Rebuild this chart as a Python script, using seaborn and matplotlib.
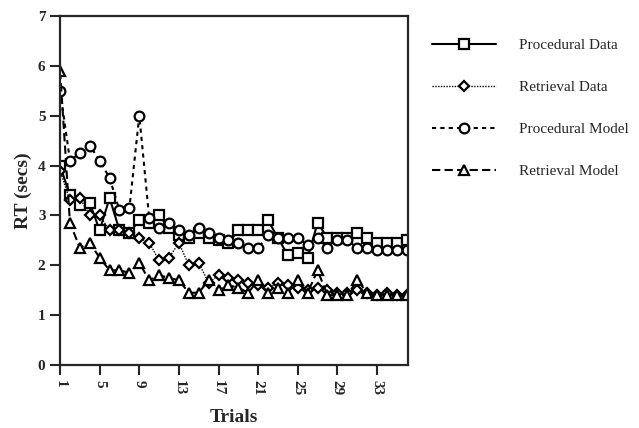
import matplotlib
matplotlib.use("Agg")
import matplotlib.pyplot as plt
import seaborn as sns
import pandas as pd

# valores (RT em segundos por tentativa)
trials = list(range(1, 37))
procedural_data = [4.0, 3.4, 3.2, 3.25, 2.7, 3.35, 2.7, 2.65, 2.9, 2.85, 3.0, 2.75,
                   2.6, 2.55, 2.65, 2.55, 2.5, 2.45, 2.7, 2.7, 2.7, 2.9, 2.55, 2.2,
                   2.25, 2.15, 2.85, 2.55, 2.55, 2.55, 2.65, 2.55, 2.45, 2.45, 2.45, 2.5]
retrieval_data = [3.9, 3.3, 3.35, 3.0, 3.0, 2.7, 2.7, 2.65, 2.55, 2.45, 2.1, 2.15,
                  2.45, 2.0, 2.05, 1.65, 1.8, 1.75, 1.7, 1.65, 1.6, 1.55, 1.65, 1.6,
                  1.55, 1.5, 1.55, 1.5, 1.45, 1.45, 1.5, 1.45, 1.4, 1.45, 1.4, 1.4]
procedural_model = [5.5, 4.1, 4.25, 4.4, 4.1, 3.75, 3.1, 3.15, 5.0, 2.95, 2.75, 2.85,
                    2.7, 2.6, 2.75, 2.65, 2.55, 2.5, 2.45, 2.35, 2.35, 2.6, 2.55, 2.55,
                    2.55, 2.4, 2.55, 2.35, 2.5, 2.5, 2.35, 2.35, 2.3, 2.3, 2.3, 2.3]
retrieval_model = [5.9, 2.85, 2.35, 2.45, 2.15, 1.9, 1.9, 1.85, 2.05, 1.7, 1.8, 1.75,
                   1.7, 1.45, 1.45, 1.7, 1.5, 1.6, 1.55, 1.45, 1.7, 1.45, 1.55, 1.45,
                   1.7, 1.45, 1.9, 1.4, 1.4, 1.4, 1.7, 1.45, 1.4, 1.4, 1.4, 1.4]

series_names = ["Procedural Data", "Retrieval Data", "Procedural Model", "Retrieval Model"]
series_values = [procedural_data, retrieval_data, procedural_model, retrieval_model]
markers = ["s", "D", "o", "^"]
linestyles = ["-", (0, (1, 1)), (0, (2, 2)), (0, (4, 2))]
linewidths = [1.5, 1.0, 1.5, 1.5]
marker_sizes = [7, 5.5, 7, 7]

sns.set_style("ticks")
plt.rcParams["font.family"] = ["Liberation Serif", "DejaVu Serif"]

fig = plt.figure(figsize=(6.39, 4.28), dpi=100)
ax = fig.add_axes([0.094, 0.147, 0.544, 0.816])

for name, vals, mk, ls, lw, ms in zip(series_names, series_values, markers,
                                      linestyles, linewidths, marker_sizes):
    df = pd.DataFrame({"Trial": trials, "RT": vals})
    sns.lineplot(data=df, x="Trial", y="RT", ax=ax, color="black", marker=mk,
                 linestyle=ls, linewidth=lw, markersize=ms, markerfacecolor="white",
                 markeredgecolor="black", markeredgewidth=1.6, label=name)

ax.set_xlim(1, 36.1)
ax.set_ylim(0, 7)
ax.set_xticks([1, 5, 9, 13, 17, 21, 25, 29, 33])
ax.set_yticks(range(0, 8))
ax.tick_params(axis="both", direction="out", length=7, width=1.5, labelsize=11)
for lab in ax.get_xticklabels():
    lab.set_rotation(-90)
    lab.set_fontweight("bold")
for lab in ax.get_yticklabels():
    lab.set_fontweight("bold")
for sp in ax.spines.values():
    sp.set_linewidth(1.6)
    sp.set_visible(True)

ax.set_xlabel("Trials", fontsize=14, fontweight="bold", labelpad=10)
ax.set_ylabel("RT (secs)", fontsize=14, fontweight="bold", labelpad=4)

ax.legend(loc="upper left", bbox_to_anchor=(1.03, 0.975), frameon=False,
          fontsize=11, handlelength=4.2, handletextpad=1.5, labelspacing=1.86)

fig.savefig("out.png", dpi=100, facecolor="white")
